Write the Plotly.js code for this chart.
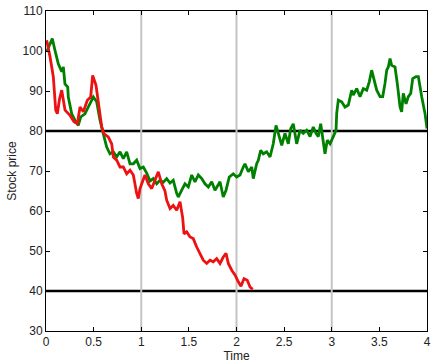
<!DOCTYPE html>
<html>
<head>
<meta charset="utf-8">
<script src="https://cdn.plot.ly/plotly-3.0.1.min.js"></script>
<style>html,body{margin:0;padding:0;background:#fff;}#chart{width:432px;height:363px;}</style>
</head>
<body>
<div id="chart"></div>
<script>
// Red path (hits lower barrier around t = 2.17)
var redTime = [0.007,0.042,0.077,0.102,0.119,0.142,0.165,0.2,0.252,0.294,0.329,0.357,0.392,0.434,0.469,0.49,0.525,0.56,0.585,0.609,0.63,0.654,0.69,0.707,0.742,0.777,0.812,0.847,0.882,0.917,0.952,0.969,0.987,1.005,1.039,1.074,1.11,1.144,1.179,1.215,1.249,1.267,1.302,1.336,1.372,1.407,1.435,1.449,1.477,1.512,1.546,1.582,1.617,1.651,1.687,1.722,1.756,1.792,1.827,1.861,1.89,1.914,1.95,1.984,2.019,2.047,2.079,2.113,2.142,2.17];
var redPrice = [102.7,98.6,93.5,85.2,84.3,88,90.2,85.2,83.9,82.3,81.8,86,84.8,87.7,88.5,93.9,91.4,86,81,79.3,78.9,78.5,76.8,73.5,72.7,71,71,69.3,70.2,69,64.4,63.1,65.6,66.8,69,66.8,65.6,67.7,69.8,66.8,65,62.7,60.6,61.4,60.2,62.3,58.3,54.3,54.8,53.5,53.1,51,49.4,47.7,46.9,47.7,47.3,48.1,46.9,48.5,49.4,46.9,45.2,44,42.3,41.2,43.1,42.7,41,40.4];
// Green path
var greenTime = [0.007,0.042,0.066,0.094,0.129,0.165,0.182,0.199,0.228,0.234,0.27,0.304,0.339,0.364,0.409,0.444,0.497,0.532,0.567,0.602,0.637,0.672,0.707,0.742,0.777,0.812,0.847,0.882,0.917,0.952,0.987,1.022,1.057,1.092,1.127,1.162,1.197,1.232,1.267,1.302,1.336,1.372,1.389,1.425,1.459,1.494,1.53,1.564,1.599,1.635,1.669,1.704,1.74,1.774,1.809,1.827,1.861,1.89,1.924,1.966,2.002,2.037,2.071,2.089,2.124,2.16,2.176,2.212,2.229,2.254,2.281,2.317,2.352,2.386,2.415,2.449,2.475,2.509,2.544,2.569,2.596,2.632,2.667,2.701,2.737,2.772,2.806,2.835,2.859,2.884,2.905,2.929,2.953,2.982,3.016,3.045,3.052,3.069,3.104,3.139,3.174,3.209,3.226,3.262,3.297,3.331,3.367,3.394,3.419,3.436,3.472,3.507,3.535,3.559,3.577,3.594,3.612,3.629,3.664,3.688,3.717,3.734,3.751,3.78,3.804,3.829,3.85,3.885,3.909,3.944,3.979,4.0];
var greenPrice = [99.8,101.9,103.1,100.2,96.8,94.8,96,91.8,91,88.5,84.3,82.7,81.4,83.5,84.3,86,88.5,87.3,82.7,79.3,76,74.3,74.8,73.5,74.8,73.1,74.8,71.8,71.8,72.7,70.6,71,69.5,67.5,68.1,66.8,67.7,67.2,68.1,67,67.7,64.4,63.5,65.2,66.8,66,69,67.3,69,68.1,66.8,66,67.3,65.2,66.8,67.3,63.5,65.2,68.5,69.3,68.5,69,71,71.8,69.8,71,68.1,71.8,72.7,75.2,74.3,74.8,73.5,76.8,81.4,78.9,76.4,79.4,76.8,80.6,81.8,76.8,80.2,79.4,80.2,78.6,81,79.4,78.6,81.8,78.6,74.3,77.7,76.8,78.6,80.2,84.4,87.7,87.3,86,86.5,90.2,89,90.6,88.6,90.6,90.2,92.3,95.2,93.6,90.2,88.6,88.6,91.9,95.2,96,98.1,96.4,96,91.9,86,84.8,89.4,86.8,88.6,89.4,93.1,93.6,93.6,88.6,84.4,80.6];
// Barriers and monitoring dates
var barrierLevels = [80, 40];
var monitorTimes = [1, 2, 3];
var xTicks = [0,0.5,1,1.5,2,2.5,3,3.5,4];
var xTickText = ['0','0.5','1','1.5','2','2.5','3','3.5','4'];
var yTicks = [30,40,50,60,70,80,90,100,110];

var shapes = [];
barrierLevels.forEach(function(b){
  shapes.push({type:'line', xref:'paper', yref:'y', x0:0, x1:1, y0:b, y1:b, layer:'below', line:{color:'#000000', width:2.5}});
});
monitorTimes.forEach(function(t){
  shapes.push({type:'line', xref:'x', yref:'paper', x0:t, x1:t, y0:0, y1:1, layer:'below', line:{color:'#c4c4c4', width:2}});
});

var traces = [
  {x: greenTime, y: greenPrice, type:'scatter', mode:'lines', line:{color:'#008000', width:2.8}, hoverinfo:'skip'},
  {x: redTime, y: redPrice, type:'scatter', mode:'lines', line:{color:'#ee1111', width:2.8}, hoverinfo:'skip'}
];

var layout = {
  width:432, height:363,
  margin:{l:46, r:5, t:11, b:32},
  paper_bgcolor:'#ffffff', plot_bgcolor:'#ffffff',
  showlegend:false,
  font:{family:'Liberation Sans, Arial, sans-serif', size:12, color:'#222'},
  xaxis:{range:[0,4], tickvals:xTicks, ticktext:xTickText, ticks:'inside', ticklen:4, tickcolor:'#000',
    showline:true, linecolor:'#000', linewidth:1, mirror:'ticks', showgrid:false, zeroline:false,
    tickfont:{size:12},
    title:{text:'Time', standoff:0, font:{size:12}}},
  yaxis:{range:[30,110], tickvals:yTicks, ticks:'inside', ticklen:4, tickcolor:'#000',
    showline:true, linecolor:'#000', linewidth:1, mirror:'ticks', showgrid:false, zeroline:false,
    tickfont:{size:12},
    title:{text:'Stock price', standoff:3, font:{size:12}}},
  shapes: shapes
};
Plotly.newPlot('chart', traces, layout, {staticPlot:true, displayModeBar:false});
</script>
</body>
</html>
